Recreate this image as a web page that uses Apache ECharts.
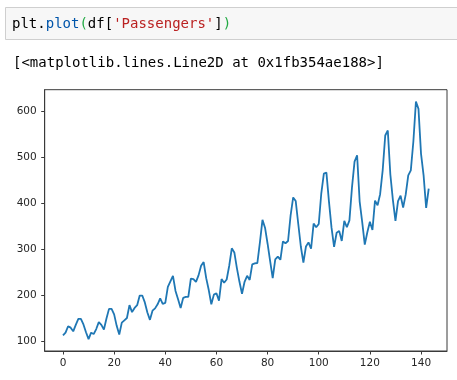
<!DOCTYPE html>
<html><head><meta charset="utf-8">
<script src="https://cdn.jsdelivr.net/npm/echarts@6/dist/echarts.min.js"></script>
<style>html,body{margin:0;padding:0;background:#fff;}#c{width:457px;height:380px;}</style>
</head><body><div id="c"></div>
<script>
// AirPassengers monthly totals, 1949-1960 (index 0..143)
const passengers = [
112,118,132,129,121,135,148,148,136,119,104,118,
115,126,141,135,125,149,170,170,158,133,114,140,
145,150,178,163,172,178,199,199,184,162,146,166,
171,180,193,181,183,218,230,242,209,191,172,194,
196,196,236,235,229,243,264,272,237,211,180,201,
204,188,235,227,234,264,302,293,259,229,203,229,
242,233,267,269,270,315,364,347,312,274,237,278,
284,277,317,313,318,374,413,405,355,306,271,306,
315,301,356,348,355,422,465,467,404,347,305,336,
340,318,362,348,363,435,491,505,404,359,310,337,
360,342,406,396,420,472,548,559,463,407,362,405,
417,391,419,461,472,535,622,606,508,461,390,432
];
const xTicks = [0,20,40,60,80,100,120,140];
const yTicks = [100,200,300,400,500,600];

const seriesData = passengers.map((v,i)=>[i,v]);
const n = passengers.length - 1;
const xMin = 0 - 0.05*n, xMax = n + 0.05*n;
const yLo = Math.min(...passengers), yHi = Math.max(...passengers);
const yMin = yLo - 0.05*(yHi-yLo), yMax = yHi + 0.05*(yHi-yLo);

const chart = echarts.init(document.getElementById('c'), null, {renderer:'canvas'});
const mono = '"DejaVu Sans Mono", "Liberation Mono", monospace';
const tickFont = {fontFamily:'"DejaVu Sans", sans-serif', fontSize:10.5, color:'#262626'};
chart.setOption({
  animation:false,
  backgroundColor:'#fff',
  grid:{left:44.7, top:89.7, width:402.3, height:261.3, show:true, borderColor:'#3a3a3a', borderWidth:1, backgroundColor:'transparent'},
  xAxis:{type:'value', min:xMin, max:xMax,
    axisLine:{show:true, onZero:false, lineStyle:{color:'#3a3a3a', width:1}},
    axisTick:{show:true, length:3.5, customValues:xTicks, lineStyle:{color:'#3a3a3a', width:1}},
    axisLabel:Object.assign({customValues:xTicks, margin:7}, tickFont),
    splitLine:{show:false}},
  yAxis:{type:'value', min:yMin, max:yMax,
    axisLine:{show:true, onZero:false, lineStyle:{color:'#3a3a3a', width:1}},
    axisTick:{show:true, length:3.5, customValues:yTicks, lineStyle:{color:'#3a3a3a', width:1}},
    axisLabel:Object.assign({customValues:yTicks, margin:8}, tickFont),
    splitLine:{show:false}},
  series:[{type:'line', data:seriesData, showSymbol:false, symbol:'none',
    lineStyle:{color:'#1f77b4', width:1.8}, itemStyle:{color:'#1f77b4'}}],
  graphic:[
    {type:'rect', shape:{x:5.5, y:7.5, width:460, height:32}, style:{fill:'#f7f7f7', stroke:'#cfcfcf', lineWidth:1}},
    {type:'text', x:12, y:24, style:{
      text:'{k|plt}{k|.}{p|plot}{g|(}{k|df[}{s|\'Passengers\'}{k|]}{g|)}',
      verticalAlign:'middle',
      rich:{
        k:{fill:'#000', font:'14px '+mono},
        p:{fill:'#0055aa', font:'14px '+mono},
        g:{fill:'#22aa44', font:'14px '+mono},
        s:{fill:'#ba2121', font:'14px '+mono}
      }}},
    {type:'text', x:13, y:63, style:{text:'[<matplotlib.lines.Line2D at 0x1fb354ae188>]', font:'14px '+mono, fill:'#000', verticalAlign:'middle'}}
  ]
});
</script></body></html>
